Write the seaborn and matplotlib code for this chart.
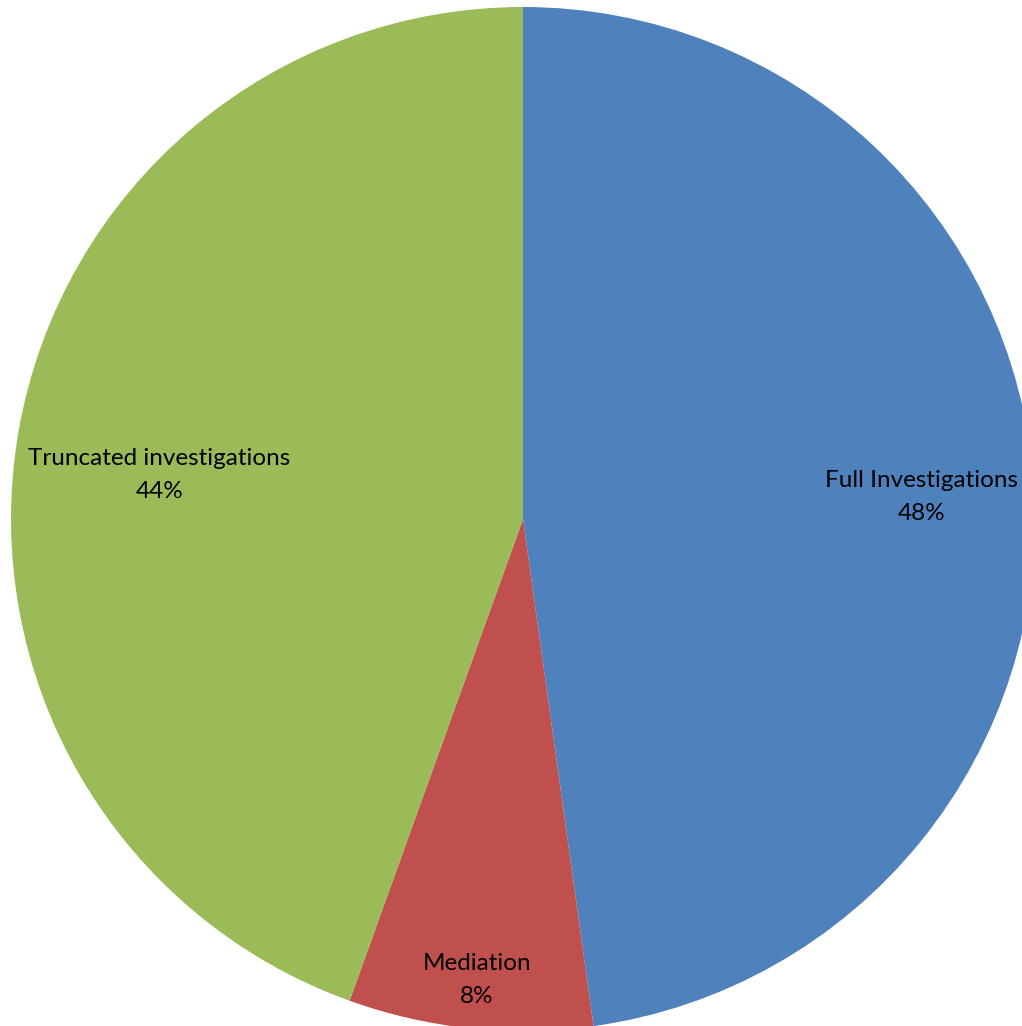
import numpy as np
import seaborn as sns
import matplotlib.pyplot as plt

sns.set_theme(style='white')
plt.rcParams['font.family'] = ['Lato', 'DejaVu Sans']

# data
labels = ['Full Investigations', 'Mediation', 'Truncated investigations']
shares = [47.8, 7.7, 44.5]
pct_text = ['48%', '8%', '44%']
colors = ['#4F81BD', '#C0504D', '#9BBB59']
# label placement: distance from centre and angle shift from the wedge middle
label_dist = [0.78, 0.905, 0.715]
label_shift = [-0.8, 0.2, 3.0]

fig = plt.figure(figsize=(10.22, 10.26), dpi=100)
# square axes, circle centre at about (523, 519) px, radius 512 px
ax = fig.add_axes([(523 - 512) / 1022, (1026 - 519 - 512) / 1026, 1024 / 1022, 1024 / 1026])
wedges, _ = ax.pie(shares, colors=colors, startangle=90, counterclock=False,
                   radius=1, wedgeprops=dict(linewidth=0))
ax.set_xlim(-1, 1)
ax.set_ylim(-1, 1)
ax.axis('off')

# labels inside, near the middle angle of each wedge
for w, lab, p, d, s in zip(wedges, labels, pct_text, label_dist, label_shift):
    ang = np.deg2rad((w.theta1 + w.theta2) / 2 + s)
    ax.text(d * np.cos(ang), d * np.sin(ang), lab + '\n' + p, ha='center', va='center',
            fontsize=17.5, color='black', linespacing=1.7)

fig.savefig('out.png', dpi=100)
